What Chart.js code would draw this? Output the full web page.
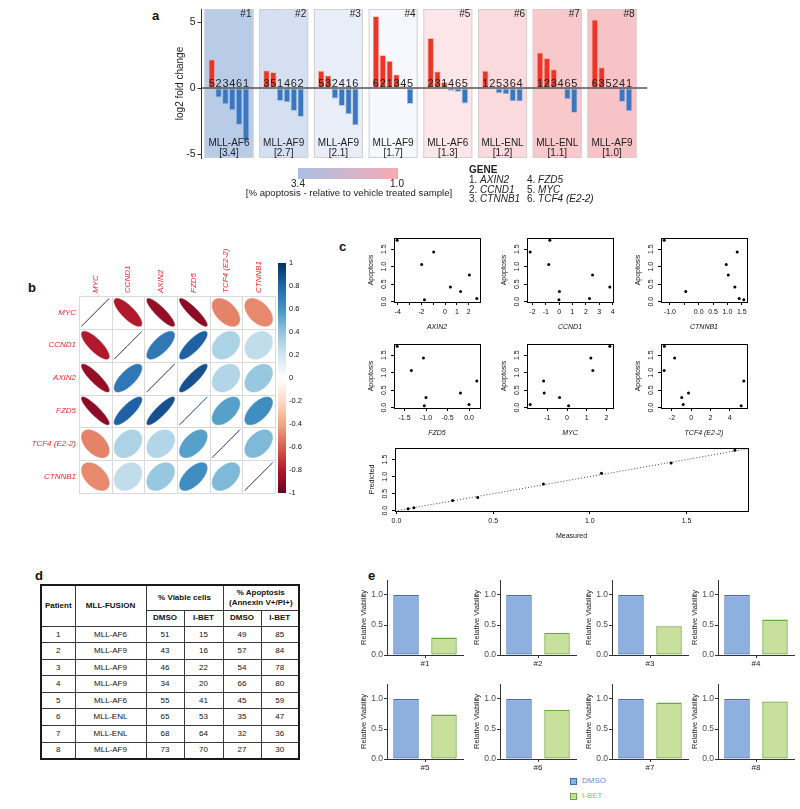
<!DOCTYPE html>
<html>
<head>
<meta charset="utf-8">
<title>I-BET response in MLL leukemia</title>
<script src="https://cdn.jsdelivr.net/npm/chart.js@4.4.1/dist/chart.umd.min.js"></script>
<style>
  html, body { margin: 0; padding: 0; background: #fff; }
  body { position: relative; width: 800px; height: 809px; overflow: hidden; font-family: 'Liberation Sans', Arial, Helvetica, sans-serif; color: #111; }
  canvas { position: absolute; }
  .tag { position: absolute; font-weight: bold; font-size: 13px; line-height: 13px; }
  #tbl { position: absolute; left: 40px; top: 584px; width: 258px; border-collapse: collapse; table-layout: fixed; border: 2px solid #1a1a1a; font-size: 8px; color: #111; }
  #tbl td, #tbl th { border: 1px solid #3a3a3a; text-align: center; padding: 0; line-height: 1.2; }
  #tbl tr.h1 { height: 25px; }
  #tbl tr.h2 { height: 16px; }
  #tbl tr.row { height: 16.6px; }
  .key { position: absolute; width: 5px; height: 5px; }
  .keytxt { position: absolute; font-size: 8px; line-height: 10px; }
</style>
</head>
<body>
<div class="tag" style="left:152px;top:9px">a</div>
<div class="tag" style="left:28px;top:281px">b</div>
<div class="tag" style="left:339px;top:240px">c</div>
<div class="tag" style="left:35px;top:569px">d</div>
<div class="tag" style="left:368px;top:569px">e</div>
<table id="tbl"></table>
<div id="ekey"></div>
<script>
const FONT = "'Liberation Sans', Arial, Helvetica, sans-serif";
Chart.defaults.font.family = FONT;
Chart.defaults.color = '#222';

// ---------- data ----------
const patients = ['#1', '#2', '#3', '#4', '#5', '#6', '#7', '#8'];
const fusions = ['MLL-AF6', 'MLL-AF9', 'MLL-AF9', 'MLL-AF9', 'MLL-AF6', 'MLL-ENL', 'MLL-ENL', 'MLL-AF9'];
const apoptosisRatio = ['3.4', '2.7', '2.1', '1.7', '1.3', '1.2', '1.1', '1.0'];
const genes = ['AXIN2', 'CCND1', 'CTNNB1', 'FZD5', 'MYC', 'TCF4 (E2-2)'];

// log2 fold change per gene, patients #1..#8
const foldAXIN2  = [-4.04, -0.96, -1.97, 2.05, 0.45, 1.31, 2.68, -1.74];
const foldCCND1  = [-0.70, -2.17, -0.78, 2.50, 3.79, 0.02, 2.27, -0.02];
const foldCTNNB1 = [-1.20, 1.34, 0.96, 1.03, 1.26, -0.45, 1.41, 1.57];
const foldFZD5   = [-1.67, -1.06, -1.34, 0.18, -0.20, -1.00, 0.00, -1.04];
const foldMYC    = [2.17, 1.21, 1.31, -1.19, -1.16, -0.38, -1.87, 0.08];
const foldTCF4   = [-2.78, -1.72, -2.80, 5.45, -0.28, -0.98, -0.83, 5.18];
const foldTicks = [-5, 0, 5];

const corrGenes  = ['MYC', 'CCND1', 'AXIN2', 'FZD5', 'TCF4 (E2-2)', 'CTNNB1'];
const corrMYC    = [1, -0.80, -0.88, -0.90, -0.50, -0.48];
const corrCCND1  = [-0.80, 1, 0.72, 0.82, 0.32, 0.25];
const corrAXIN2  = [-0.88, 0.72, 1, 0.88, 0.30, 0.38];
const corrFZD5   = [-0.90, 0.82, 0.88, 1, 0.55, 0.62];
const corrTCF4   = [-0.50, 0.32, 0.30, 0.55, 1, 0.45];
const corrCTNNB1 = [-0.48, 0.25, 0.38, 0.62, 0.45, 1];
const corrTicks  = [1, 0.8, 0.6, 0.4, 0.2, 0, -0.2, -0.4, -0.6, -0.8, -1];

// apoptosis vs expression
const apoptosis = [1.75, 1.42, 1.06, 0.76, 0.42, 0.29, 0.09, 0.06];
const predicted = [1.77, 1.40, 1.10, 0.78, 0.39, 0.30, 0.09, 0.06];
const apoTicks = [0, 0.5, 1, 1.5];
const ticksAXIN2 = [-4, -3, -2, -1, 0, 1, 2];
const shownAXIN2 = [-4, -2, 0, 1, 2];
const ticksCCND1 = [-2, -1, 0, 1, 2, 3, 4];
const ticksCTNNB1 = [-1, -0.5, 0, 0.5, 1, 1.5];
const shownCTNNB1 = [-1, 0, 0.5, 1, 1.5];
const ticksFZD5 = [-1.5, -1, -0.5, 0];
const ticksMYC = [-1, 0, 1, 2];
const ticksTCF4 = [-2, 0, 2, 4];

// table
const viableDMSO = [51, 43, 46, 34, 55, 65, 68, 73];
const viableIBET = [15, 16, 22, 20, 41, 53, 64, 70];
const apopDMSO = [49, 57, 54, 66, 45, 35, 32, 27];
const apopIBET = [85, 84, 78, 80, 59, 47, 36, 30];

// relative viability
const treatments = ['DMSO', 'I-BET'];
const relDMSO = [1, 1, 1, 1, 1, 1, 1, 1];
const relIBET = [0.29, 0.37, 0.48, 0.59, 0.74, 0.82, 0.94, 0.96];
const viabTicks = [0, 0.5, 1];

// ---------- styles ----------
const panelFill = ['#b8cce7', '#d4e0f1', '#e8edf7', '#f6f8fd', '#fde6e9', '#fbdadd', '#f9c8cb', '#f8c3c6'];
const corrStops = ['#67001F', '#B2182B', '#D6604D', '#F4A582', '#FDDBC7', '#FFFFFF', '#D1E5F0', '#92C5DE', '#4393C3', '#2166AC', '#053061'];

// ---------- helpers ----------
function fixSize(size) {
  return s => {
    if (s.isHorizontal()) s.height = size; else s.width = size;
    s.paddingLeft = s.paddingRight = s.paddingTop = s.paddingBottom = 0;
  };
}
function setTicks(list) { return s => { s.ticks = list.map(v => ({value: v})); }; }

function makeChart(cb, area, yW, xH, config) {
  const c = document.createElement('canvas');
  c.width = cb.w; c.height = cb.h;
  c.style.left = cb.x + 'px'; c.style.top = cb.y + 'px';
  c.style.width = cb.w + 'px'; c.style.height = cb.h + 'px';
  document.body.appendChild(c);
  const o = config.options || {};
  o.responsive = false; o.animation = false; o.events = [];
  o.layout = {padding: {left: area.x - yW - cb.x, top: area.y - cb.y,
    right: cb.x + cb.w - area.x - area.w, bottom: cb.y + cb.h - area.y - area.h - xH}};
  o.plugins = Object.assign({legend: {display: false}, tooltip: {enabled: false}}, o.plugins);
  config.options = o;
  return new Chart(c, config);
}
function around(area, yW, xH, m) {
  const x = Math.floor(area.x - yW - m), y = Math.floor(area.y - m);
  return {x, y, w: Math.ceil(area.x + area.w + m) - x, h: Math.ceil(area.y + area.h + xH + m) - y};
}

// ---------- a: fold change bars ----------
const geneFolds = [foldAXIN2, foldCCND1, foldCTNNB1, foldFZD5, foldMYC, foldTCF4];
const slotLabels = [], slotValues = [], slotGene = [];
patients.forEach((p, g) => {
  const order = geneFolds.map((arr, i) => ({gene: i + 1, v: arr[g]})).sort((a, b) => b.v - a.v);
  slotLabels.push(p + 'a'); slotValues.push(null); slotGene.push('');
  order.forEach(o => { slotLabels.push(p + o.gene); slotValues.push(o.v); slotGene.push(String(o.gene)); });
  slotLabels.push(p + 'b'); slotValues.push(null); slotGene.push('');
});

const cbA = {x: 150, y: 0, w: 650, h: 212};
const areaA = {x: 201.5, y: 9, w: 64 * 6.84, h: 149};

function panelEdges(x, g) {
  const slot = x.getPixelForValue(1) - x.getPixelForValue(0);
  return [x.getPixelForValue(g * 8 + 1) - 1.07 * slot, x.getPixelForValue(g * 8 + 6) + 1.1 * slot];
}

const panelA = {
  id: 'panelA',
  beforeDatasetsDraw(chart) {
    const {ctx, chartArea: ca, scales: {x}} = chart;
    ctx.save();
    patients.forEach((p, g) => {
      const [l, r] = panelEdges(x, g);
      ctx.fillStyle = panelFill[g];
      ctx.fillRect(l, ca.top, r - l, ca.bottom - ca.top);
      ctx.strokeStyle = '#d0d0d0'; ctx.lineWidth = 1;
      ctx.strokeRect(l + 0.5, ca.top + 0.5, r - l - 1, ca.bottom - ca.top - 1);
    });
    ctx.restore();
  },
  afterDatasetsDraw(chart) {
    const {ctx, chartArea: ca, scales: {x, y}} = chart;
    const y0 = y.getPixelForValue(0);
    ctx.save();
    ctx.strokeStyle = '#555'; ctx.lineWidth = 1.5;
    ctx.beginPath(); ctx.moveTo(ca.left, y0); ctx.lineTo(ca.right + 8, y0); ctx.stroke();
    ctx.fillStyle = '#222';
    ctx.font = '11px ' + FONT; ctx.textAlign = 'center'; ctx.textBaseline = 'alphabetic';
    slotGene.forEach((gn, k) => { if (gn) ctx.fillText(gn, x.getPixelForValue(k), y0 - 1); });
    ctx.font = '10px ' + FONT; ctx.textBaseline = 'middle';
    patients.forEach((p, g) => {
      const [l, r] = panelEdges(x, g);
      ctx.textAlign = 'center';
      ctx.fillText(fusions[g], (l + r) / 2, ca.bottom - 15);
      ctx.fillText('[' + apoptosisRatio[g] + ']', (l + r) / 2, ca.bottom - 5);
      ctx.textAlign = 'right';
      ctx.fillText(p, r - 2, ca.top + 5);
    });
    ctx.restore();
  },
  afterDraw(chart) {
    const ctx = chart.ctx;
    ctx.save();
    ctx.translate(-cbA.x, -cbA.y);
    const grad = ctx.createLinearGradient(298, 0, 398, 0);
    grad.addColorStop(0, '#a9c0e5'); grad.addColorStop(1, '#f7aab2');
    ctx.fillStyle = grad; ctx.fillRect(298, 168, 100, 11);
    ctx.fillStyle = '#222'; ctx.textAlign = 'center'; ctx.textBaseline = 'middle';
    ctx.font = '10px ' + FONT;
    ctx.fillText(apoptosisRatio[0], 298, 184);
    ctx.fillText(apoptosisRatio[7], 397, 184);
    ctx.font = '9.6px ' + FONT;
    ctx.fillText('[% apoptosis - relative to vehicle treated sample]', 349, 193.5);
    ctx.textAlign = 'left';
    ctx.font = 'bold 10px ' + FONT; ctx.fillText('GENE', 469, 170.5);
    genes.forEach((gn, i) => {
      const gx = i < 3 ? 469 : 527, gy = 180.5 + (i % 3) * 9.5;
      const pre = (i + 1) + '. ';
      ctx.font = '10px ' + FONT; ctx.fillText(pre, gx, gy);
      const w = ctx.measureText(pre).width;
      ctx.font = 'italic 10px ' + FONT; ctx.fillText(gn, gx + w, gy);
    });
    ctx.restore();
  }
};

makeChart(cbA, areaA, 27, 0, {
  type: 'bar',
  data: {labels: slotLabels, datasets: [{
    data: slotValues,
    backgroundColor: slotValues.map(v => v > 0 ? '#ee3424' : '#3b77c0'),
    borderColor: slotValues.map(v => v > 0 ? '#f6a093' : '#93b4dd'),
    borderWidth: 0.8, borderSkipped: false,
    barPercentage: 0.91, categoryPercentage: 1
  }]},
  options: {scales: {
    x: {display: false},
    y: {min: -5.3, max: 6, afterFit: fixSize(27), afterBuildTicks: setTicks(foldTicks),
        border: {display: true, color: '#333', width: 1},
        grid: {drawOnChartArea: false, tickLength: 4, color: '#333'},
        ticks: {font: {size: 10.5}, color: '#222', padding: 2},
        title: {display: true, text: 'log2 fold change', font: {size: 10}, color: '#222', padding: 0}}
  }},
  plugins: [panelA]
});

// ---------- b: correlation ellipses ----------
const corrRows = [corrMYC, corrCCND1, corrAXIN2, corrFZD5, corrTCF4, corrCTNNB1];
const cells = [];
corrRows.forEach((row, j) => row.forEach((r, i) => cells.push({x: i + 1, y: j + 1, r})));

function hex(c) { return [1, 3, 5].map(i => parseInt(c.substr(i, 2), 16)); }
function corrColor(r) {
  const t = (Math.max(-1, Math.min(1, r)) + 1) * 5;
  const i = Math.min(9, Math.floor(t)), f = t - i;
  const a = hex(corrStops[i]), b = hex(corrStops[i + 1]);
  return 'rgb(' + a.map((v, k) => Math.round(v + (b[k] - v) * f)).join(',') + ')';
}

const corrPlot = {
  id: 'corrPlot',
  beforeDatasetsDraw(chart) {
    const {ctx, chartArea: ca, scales: {x, y}} = chart;
    ctx.save();
    ctx.strokeStyle = '#dadada'; ctx.lineWidth = 1;
    for (let k = 0; k <= corrGenes.length; k++) {
      const px = Math.round(x.getPixelForValue(0.5 + k)) + 0.5, py = Math.round(y.getPixelForValue(0.5 + k)) + 0.5;
      ctx.beginPath(); ctx.moveTo(px, ca.top); ctx.lineTo(px, ca.bottom); ctx.stroke();
      ctx.beginPath(); ctx.moveTo(ca.left, py); ctx.lineTo(ca.right, py); ctx.stroke();
    }
    ctx.restore();
  },
  afterDatasetsDraw(chart) {
    const {ctx, chartArea: ca, scales: {x, y}} = chart;
    const meta = chart.getDatasetMeta(0);
    const cw = Math.abs(x.getPixelForValue(2) - x.getPixelForValue(1));
    const ch = Math.abs(y.getPixelForValue(2) - y.getPixelForValue(1));
    ctx.save();
    meta.data.forEach((el, i) => {
      const r = cells[i].r, d = Math.acos(Math.max(-1, Math.min(1, r)));
      ctx.beginPath();
      for (let k = 0; k <= 100; k++) {
        const t = k / 100 * 2 * Math.PI;
        const px = el.x + 0.85 * Math.cos(t + d / 2) / 2 * cw;
        const py = el.y - 0.85 * Math.cos(t - d / 2) / 2 * ch;
        if (k) ctx.lineTo(px, py); else ctx.moveTo(px, py);
      }
      ctx.closePath();
      const col = corrColor(r);
      ctx.fillStyle = col; ctx.fill();
      ctx.strokeStyle = r > 0.99 ? '#4a5d8e' : col; ctx.lineWidth = r > 0.99 ? 1 : 0.5; ctx.stroke();
    });
    // labels
    ctx.fillStyle = '#f02a2a'; ctx.font = 'italic 8px ' + FONT; ctx.textBaseline = 'middle';
    corrGenes.forEach((gn, j) => {
      ctx.textAlign = 'right';
      ctx.fillText(gn, ca.left - 3, y.getPixelForValue(j + 1));
      ctx.save();
      ctx.translate(x.getPixelForValue(j + 1), ca.top - 3);
      ctx.rotate(-Math.PI / 2);
      ctx.textAlign = 'left';
      ctx.fillText(gn, 0, 0);
      ctx.restore();
    });
    // colour key
    const bx = ca.right + 3, bw = 8, bTop = ca.top - 33, bBot = ca.bottom;
    const grad = ctx.createLinearGradient(0, bTop, 0, bBot);
    corrStops.slice().reverse().forEach((c, k) => grad.addColorStop(k / 10, c));
    ctx.fillStyle = grad; ctx.fillRect(bx, bTop, bw, bBot - bTop);
    ctx.fillStyle = '#111'; ctx.font = '7.5px ' + FONT; ctx.textAlign = 'left';
    corrTicks.forEach((v, k) => ctx.fillText(String(v), bx + bw + 3, bTop + k * (bBot - bTop) / (corrTicks.length - 1)));
    ctx.restore();
  }
};

makeChart({x: 0, y: 240, w: 330, h: 265}, {x: 79, y: 296, w: 196, h: 197}, 0, 0, {
  type: 'scatter',
  data: {datasets: [{data: cells, pointRadius: 0}]},
  options: {scales: {
    x: {type: 'linear', min: 0.5, max: 6.5, display: false},
    y: {type: 'linear', min: 0.5, max: 6.5, reverse: true, display: false}
  }},
  plugins: [corrPlot]
});

// ---------- c: apoptosis scatter plots ----------
function rRange(vals) {
  const lo = Math.min(...vals), hi = Math.max(...vals), p = (hi - lo) * 0.04;
  return [lo - p, hi + p];
}
const rBox = {
  id: 'rBox',
  afterDraw(chart) {
    const {ctx, chartArea: ca, scales: {y}} = chart;
    ctx.save();
    ctx.strokeStyle = '#000'; ctx.lineWidth = 1;
    ctx.strokeRect(Math.round(ca.left) + 0.5, Math.round(ca.top) + 0.5, Math.round(ca.width), Math.round(ca.height));
    ctx.font = '7px ' + FONT; ctx.fillStyle = '#111'; ctx.textAlign = 'center'; ctx.textBaseline = 'middle';
    y.ticks.forEach(t => {
      ctx.save();
      ctx.translate(ca.left - 10, y.getPixelForValue(t.value));
      ctx.rotate(-Math.PI / 2);
      ctx.fillText(t.value.toFixed(1), 0, 0);
      ctx.restore();
    });
    ctx.restore();
  }
};
const identityLine = {
  id: 'identityLine',
  beforeDatasetsDraw(chart) {
    const {ctx, chartArea: ca, scales: {x, y}} = chart;
    const lo = Math.max(x.min, y.min), hi = Math.min(x.max, y.max);
    ctx.save();
    ctx.beginPath(); ctx.rect(ca.left, ca.top, ca.width, ca.height); ctx.clip();
    ctx.setLineDash([1, 2]); ctx.strokeStyle = '#444'; ctx.lineWidth = 1;
    ctx.beginPath();
    ctx.moveTo(x.getPixelForValue(lo), y.getPixelForValue(lo));
    ctx.lineTo(x.getPixelForValue(hi), y.getPixelForValue(hi));
    ctx.stroke();
    ctx.restore();
  }
};

function rScatter(area, xs, ys, xTicks, xShown, xTitle, xItalic, yTitle, extra) {
  const yW = 27, xH = 29;
  const [xmin, xmax] = rRange(xs), [ymin, ymax] = rRange(ys);
  const dec = xTicks.some(v => !Number.isInteger(v)) ? 1 : 0;
  const shown = xShown || xTicks;
  return makeChart(around(area, yW, xH, 6), area, yW, xH, {
    type: 'scatter',
    data: {datasets: [{data: xs.map((v, i) => ({x: v, y: ys[i]})), pointRadius: 1.5, pointBackgroundColor: '#000', pointBorderWidth: 0}]},
    options: {scales: {
      x: {type: 'linear', min: xmin, max: xmax, afterFit: fixSize(xH), afterBuildTicks: setTicks(xTicks),
          border: {display: false}, grid: {drawOnChartArea: false, tickLength: 3, color: '#000'},
          ticks: {font: {size: 7}, color: '#111', padding: 3, maxRotation: 0, autoSkip: false,
                  callback: v => shown.includes(v) ? v.toFixed(dec) : ''},
          title: {display: true, text: xTitle, font: {size: 7, style: xItalic ? 'italic' : 'normal'}, color: '#111', padding: 0}},
      y: {type: 'linear', min: ymin, max: ymax, afterFit: fixSize(yW), afterBuildTicks: setTicks(apoTicks),
          border: {display: false}, grid: {drawOnChartArea: false, tickLength: 3, color: '#000'},
          ticks: {display: false},
          title: {display: true, text: yTitle, font: {size: 7}, color: '#111', padding: 0}}
    }},
    plugins: [rBox].concat(extra || [])
  });
}

const cCols = [394, 527, 661], cRows = [238, 344];
const scatterSets = [
  [foldAXIN2, ticksAXIN2, shownAXIN2],
  [foldCCND1, ticksCCND1, null],
  [foldCTNNB1, ticksCTNNB1, shownCTNNB1],
  [foldFZD5, ticksFZD5, null],
  [foldMYC, ticksMYC, null],
  [foldTCF4, ticksTCF4, null]
];
scatterSets.forEach((s, i) => {
  rScatter({x: cCols[i % 3], y: cRows[Math.floor(i / 3)], w: 86, h: 64}, s[0], apoptosis, s[1], s[2], genes[i], true, 'Apoptosis');
});
rScatter({x: 395, y: 448, w: 353, h: 63}, apoptosis, predicted, apoTicks, null, 'Measured', false, 'Predicted', [identityLine]);

// ---------- d: table ----------
let html = '<colgroup><col style="width:34px"><col style="width:71px"><col style="width:38px"><col style="width:39px"><col style="width:38px"><col style="width:38px"></colgroup>';
html += '<tr class="h1"><th rowspan="2">Patient</th><th rowspan="2">MLL-FUSION</th><th colspan="2">% Viable cells</th><th colspan="2">% Apoptosis<br>(Annexin V+/PI+)</th></tr>';
html += '<tr class="h2"><th>DMSO</th><th>I-BET</th><th>DMSO</th><th>I-BET</th></tr>';
patients.forEach((p, i) => {
  html += '<tr class="row"><td>' + (i + 1) + '</td><td>' + fusions[i] + '</td><td>' + viableDMSO[i] + '</td><td>' +
    viableIBET[i] + '</td><td>' + apopDMSO[i] + '</td><td>' + apopIBET[i] + '</td></tr>';
});
document.getElementById('tbl').innerHTML = html;

// ---------- e: relative viability ----------
const eFill = ['#8eb0df', '#c9e09c'], eLine = ['#3e6eb3', '#6aa83e'], eText = ['#5b8ed6', '#8cbf5a'];
function viabBar(area, i) {
  const yW = 28, xH = 14;
  const vals = [relDMSO[i], relIBET[i]];
  return makeChart(around(area, yW, xH, 5), area, yW, xH, {
    type: 'bar',
    data: {labels: [patients[i]], datasets: treatments.map((t, k) => ({
      label: t, data: [vals[k]], backgroundColor: eFill[k], borderColor: eLine[k],
      borderWidth: 1.3, borderSkipped: false, categoryPercentage: 1, barPercentage: 0.67
    }))},
    options: {scales: {
      x: {afterFit: fixSize(xH), border: {display: true, color: '#333', width: 1},
          grid: {offset: false, drawOnChartArea: false, tickLength: 3, color: '#333'},
          ticks: {font: {size: 8}, color: '#222', padding: 1}},
      y: {min: 0, max: 1.25, afterFit: fixSize(yW), afterBuildTicks: setTicks(viabTicks),
          border: {display: true, color: '#333', width: 1},
          grid: {drawOnChartArea: false, tickLength: 3, color: '#333'},
          ticks: {font: {size: 8.5}, color: '#4d4d4d', padding: 1, callback: v => v.toFixed(1)},
          title: {display: true, text: 'Relative Viability', font: {size: 7.5}, color: '#222', padding: 0}}
    }}
  });
}
const eCols = [387, 500, 612, 718], eRows = [580, 684];
patients.forEach((p, i) => viabBar({x: eCols[i % 4], y: eRows[Math.floor(i / 4)], w: 76, h: 75}, i));

const ekey = document.getElementById('ekey');
treatments.forEach((t, k) => {
  const sq = document.createElement('div');
  sq.className = 'key';
  sq.style.cssText = 'left:570px;top:' + (778 + k * 15) + 'px;background:' + eFill[k] + ';border:1px solid ' + eLine[k];
  const tx = document.createElement('div');
  tx.className = 'keytxt';
  tx.style.cssText = 'left:582px;top:' + (776 + k * 15) + 'px;color:' + eText[k];
  tx.textContent = t;
  ekey.appendChild(sq); ekey.appendChild(tx);
});
</script>
</body>
</html>
